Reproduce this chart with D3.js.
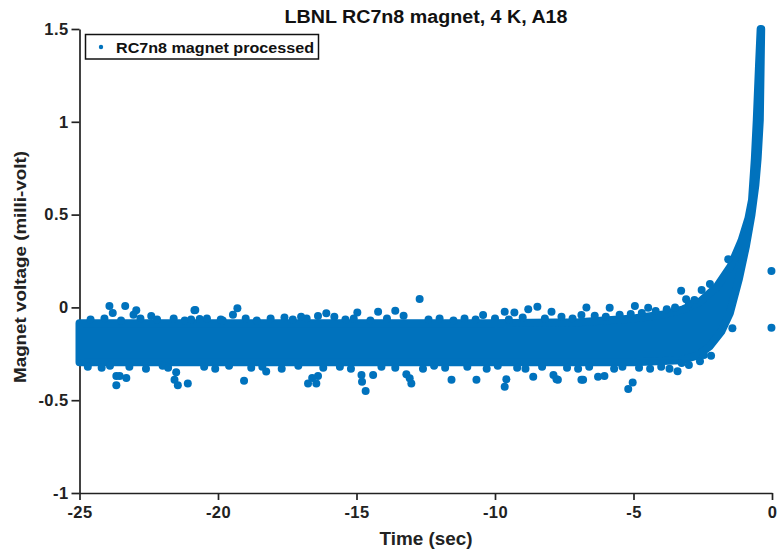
<!DOCTYPE html>
<html>
<head>
<meta charset="utf-8">
<script src="https://cdn.jsdelivr.net/npm/d3@7"></script>
<style>
  body { margin: 0; background: #fff; }
  svg { display: block; }
</style>
</head>
<body>
<div id="chart"></div>
<script>
const width = 777;
const height = 550;
const blue = '#0072BD';

// x / y ticks
const xTicks = [-25, -20, -15, -10, -5, 0];
const yTicks = [-1, -0.5, 0, 0.5, 1, 1.5];

// dense cloud: upper edge (left -> right) and lower edge (right -> left), dot centres
const upperT = [-25, -20, -15, -10, -7, -5, -4, -3.2, -2.6, -2.0, -1.5, -1.1, -0.85, -0.72, -0.62, -0.55, -0.47, -0.41];
const upperV = [-0.085, -0.085, -0.085, -0.085, -0.08, -0.06, -0.04, -0.01, 0.03, 0.11, 0.22, 0.36, 0.48, 0.58, 0.80, 1.01, 1.30, 1.50];
const lowerT = [-0.39, -0.44, -0.52, -0.6, -0.74, -0.94, -1.2, -1.52, -1.83, -2.25, -2.7, -3.3, -5, -10, -15, -20, -25];
const lowerV = [1.50, 1.01, 0.80, 0.66, 0.50, 0.33, 0.15, -0.03, -0.13, -0.21, -0.26, -0.285, -0.295, -0.295, -0.295, -0.295, -0.295];

// dots sitting on the ragged edges of the cloud
const edgeT = [
  -24.6, -24.1, -23.5, -22.8, -22.2, -21.6, -21.2, -20.4, -19.9, -19.0, -18.6, -18.1, -17.3, -16.8,
  -15.4, -15.1, -14.5, -13.9, -12.4, -12.0, -11.5, -11.1, -10.7, -10.0, -9.5, -9.0, -8.2, -7.6, -7.2,
  -6.4, -6.0, -5.5, -5.1, -4.7, -4.2, -3.8, -3.5, -3.0, -2.8,
  -24.7, -24.2, -23.9, -23.2, -22.6, -22.0, -21.8, -20.5, -20.1, -19.6, -18.8, -18.4, -17.7, -17.1,
  -16.2, -15.6, -15.2, -14.1, -13.6, -12.6, -12.2, -11.8, -11.0, -10.3, -9.9, -9.2, -8.9, -8.3, -7.4,
  -7.0, -6.6, -5.7, -5.4, -4.8, -4.4, -4.0, -3.7, -3.0, -2.6, -2.2
];
const edgeV = [
  -0.065, -0.06, -0.07, -0.06, -0.065, -0.06, -0.07, -0.06, -0.065, -0.06, -0.07, -0.06, -0.065, -0.06,
  -0.065, -0.06, -0.07, -0.06, -0.065, -0.06, -0.07, -0.06, -0.065, -0.06, -0.065, -0.055, -0.06, -0.05, -0.06,
  -0.045, -0.05, -0.04, -0.035, -0.03, -0.02, -0.01, 0.0, 0.02, 0.04,
  -0.32, -0.325, -0.315, -0.32, -0.33, -0.315, -0.325, -0.32, -0.33, -0.315, -0.325, -0.32, -0.33, -0.315,
  -0.325, -0.32, -0.33, -0.32, -0.325, -0.33, -0.315, -0.325, -0.32, -0.33, -0.315, -0.325, -0.33, -0.32, -0.325,
  -0.33, -0.32, -0.33, -0.32, -0.325, -0.33, -0.32, -0.33, -0.31, -0.29, -0.26
];

// scattered points well outside the dense cloud
const outT = [
  -23.92, -23.35, -23.8, -22.95, -23.05, -22.41, -20.85, -20.82, -20.97, -20.66, -19.46, -19.3, -19.83,
  -12.72, -14.22, -13.6, -14.97, -16.09, -16.39, -17.6, -17.0, -15.8, -13.3,
  -8.47, -8.8, -7.96, -6.7, -9.3, -9.65, -10.43, -6.88, -5.86, -4.95, -4.47,
  -3.28, -3.10, -2.54, -2.24, -1.58, -0.02, -0.02, -1.43,
  -23.67, -23.67, -23.55, -23.31, -21.57, -21.45, -21.09, -21.51, -19.06, -18.26,
  -16.75, -16.45, -16.39, -16.6, -14.82, -14.8, -14.67, -14.4, -13.02, -13.08, -13.2,
  -11.57, -10.67, -9.65, -9.59, -7.73, -7.78, -6.88, -6.82, -6.28, -8.62, -7.89,
  -6.05, -5.19, -5.03, -3.41, -3.26, -2.46
];
const outV = [
  0.007, 0.007, -0.03, -0.015, -0.04, -0.047, -0.015, -0.014, -0.065, -0.063, -0.04, -0.005, -0.07,
  0.045, -0.023, -0.018, -0.028, -0.032, -0.046, -0.055, -0.05, -0.05, -0.045,
  0.004, -0.01, -0.023, 0.0, -0.028, -0.023, -0.041, -0.041, -0.002, 0.007, -0.002,
  0.09, 0.044, 0.094, 0.126, 0.26, 0.196, -0.11, -0.113,
  -0.37, -0.42, -0.37, -0.38, -0.39, -0.42, -0.41, -0.35, -0.395, -0.346,
  -0.41, -0.41, -0.37, -0.38, -0.364, -0.40, -0.45, -0.364, -0.41, -0.382, -0.36,
  -0.39, -0.39, -0.427, -0.387, -0.39, -0.387, -0.39, -0.39, -0.373, -0.373, -0.364,
  -0.37, -0.44, -0.405, -0.344, -0.30, -0.256
];

const x = d3.scaleLinear().domain([-25, 0]).range([79.5, 772]);
const y = d3.scaleLinear().domain([-1, 1.5]).range([493, 29]);

const svg = d3.select('#chart')
  .append('svg')
  .attr('width', width)
  .attr('height', height)
  .attr('viewBox', `0,0,${width},${height}`);

const font = '"Liberation Sans", Arial, sans-serif';

// axes
const xAxis = svg.append('g')
  .attr('transform', `translate(0,${y(-1)})`)
  .call(d3.axisBottom(x).tickValues(xTicks).tickSize(7).tickSizeOuter(0));
const yAxis = svg.append('g')
  .attr('transform', `translate(${x(-25)},0)`)
  .call(d3.axisLeft(y).tickValues(yTicks).tickSize(8).tickSizeOuter(0).tickFormat(d => d));

[xAxis, yAxis].forEach(ax => {
  ax.select('.domain').attr('stroke', '#222').attr('stroke-width', 1.7);
  ax.selectAll('.tick line').attr('stroke', '#222').attr('stroke-width', 1.7);
  ax.selectAll('.tick text')
    .attr('fill', '#222')
    .style('font-family', font)
    .style('font-weight', 'bold')
    .style('font-size', '16.5px')
    .style('letter-spacing', '0.4px');
});
xAxis.selectAll('.tick text').attr('y', 13).text(d => d);
yAxis.selectAll('.tick text').attr('x', -11);

// dense cloud
const pts = upperT.map((t, i) => [t, upperV[i]])
  .concat(lowerT.map((t, i) => [t, lowerV[i]]));
svg.append('path')
  .attr('d', d3.line().x(d => x(d[0])).y(d => y(d[1]))(pts) + 'Z')
  .attr('fill', blue)
  .attr('stroke', blue)
  .attr('stroke-width', 8)
  .attr('stroke-linejoin', 'round');

// dots on the edges and scattered dots
svg.append('g')
  .selectAll('circle')
  .data(edgeT.map((t, i) => [t, edgeV[i]]).concat(outT.map((t, i) => [t, outV[i]])))
  .join('circle')
  .attr('cx', d => x(d[0]))
  .attr('cy', d => y(d[1]))
  .attr('r', 4)
  .attr('fill', blue);

// title and labels
svg.append('text')
  .attr('x', 426).attr('y', 23)
  .attr('text-anchor', 'middle')
  .attr('textLength', 283).attr('lengthAdjust', 'spacingAndGlyphs')
  .style('font-family', font).style('font-weight', 'bold').style('font-size', '17.5px')
  .attr('fill', '#111')
  .text('LBNL RC7n8 magnet, 4 K, A18');

svg.append('text')
  .attr('x', 426).attr('y', 545)
  .attr('text-anchor', 'middle')
  .attr('textLength', 93).attr('lengthAdjust', 'spacingAndGlyphs')
  .style('font-family', font).style('font-weight', 'bold').style('font-size', '17.5px')
  .attr('fill', '#222')
  .text('Time (sec)');

svg.append('text')
  .attr('transform', 'translate(26,267) rotate(-90)')
  .attr('text-anchor', 'middle')
  .attr('textLength', 232).attr('lengthAdjust', 'spacingAndGlyphs')
  .style('font-family', font).style('font-weight', 'bold').style('font-size', '16.5px')
  .attr('fill', '#222')
  .text('Magnet voltage (milli-volt)');

// legend
const legend = svg.append('g');
legend.append('rect')
  .attr('x', 85.5).attr('y', 34.5).attr('width', 233).attr('height', 24.5)
  .attr('fill', '#fff').attr('stroke', '#111').attr('stroke-width', 1.5);
legend.append('circle')
  .attr('cx', 101).attr('cy', 47).attr('r', 2.2).attr('fill', blue);
legend.append('text')
  .attr('x', 116).attr('y', 52.5)
  .attr('textLength', 198).attr('lengthAdjust', 'spacingAndGlyphs')
  .style('font-family', font).style('font-weight', 'bold').style('font-size', '14.5px')
  .attr('fill', '#111')
  .text('RC7n8 magnet processed');
</script>
</body>
</html>
